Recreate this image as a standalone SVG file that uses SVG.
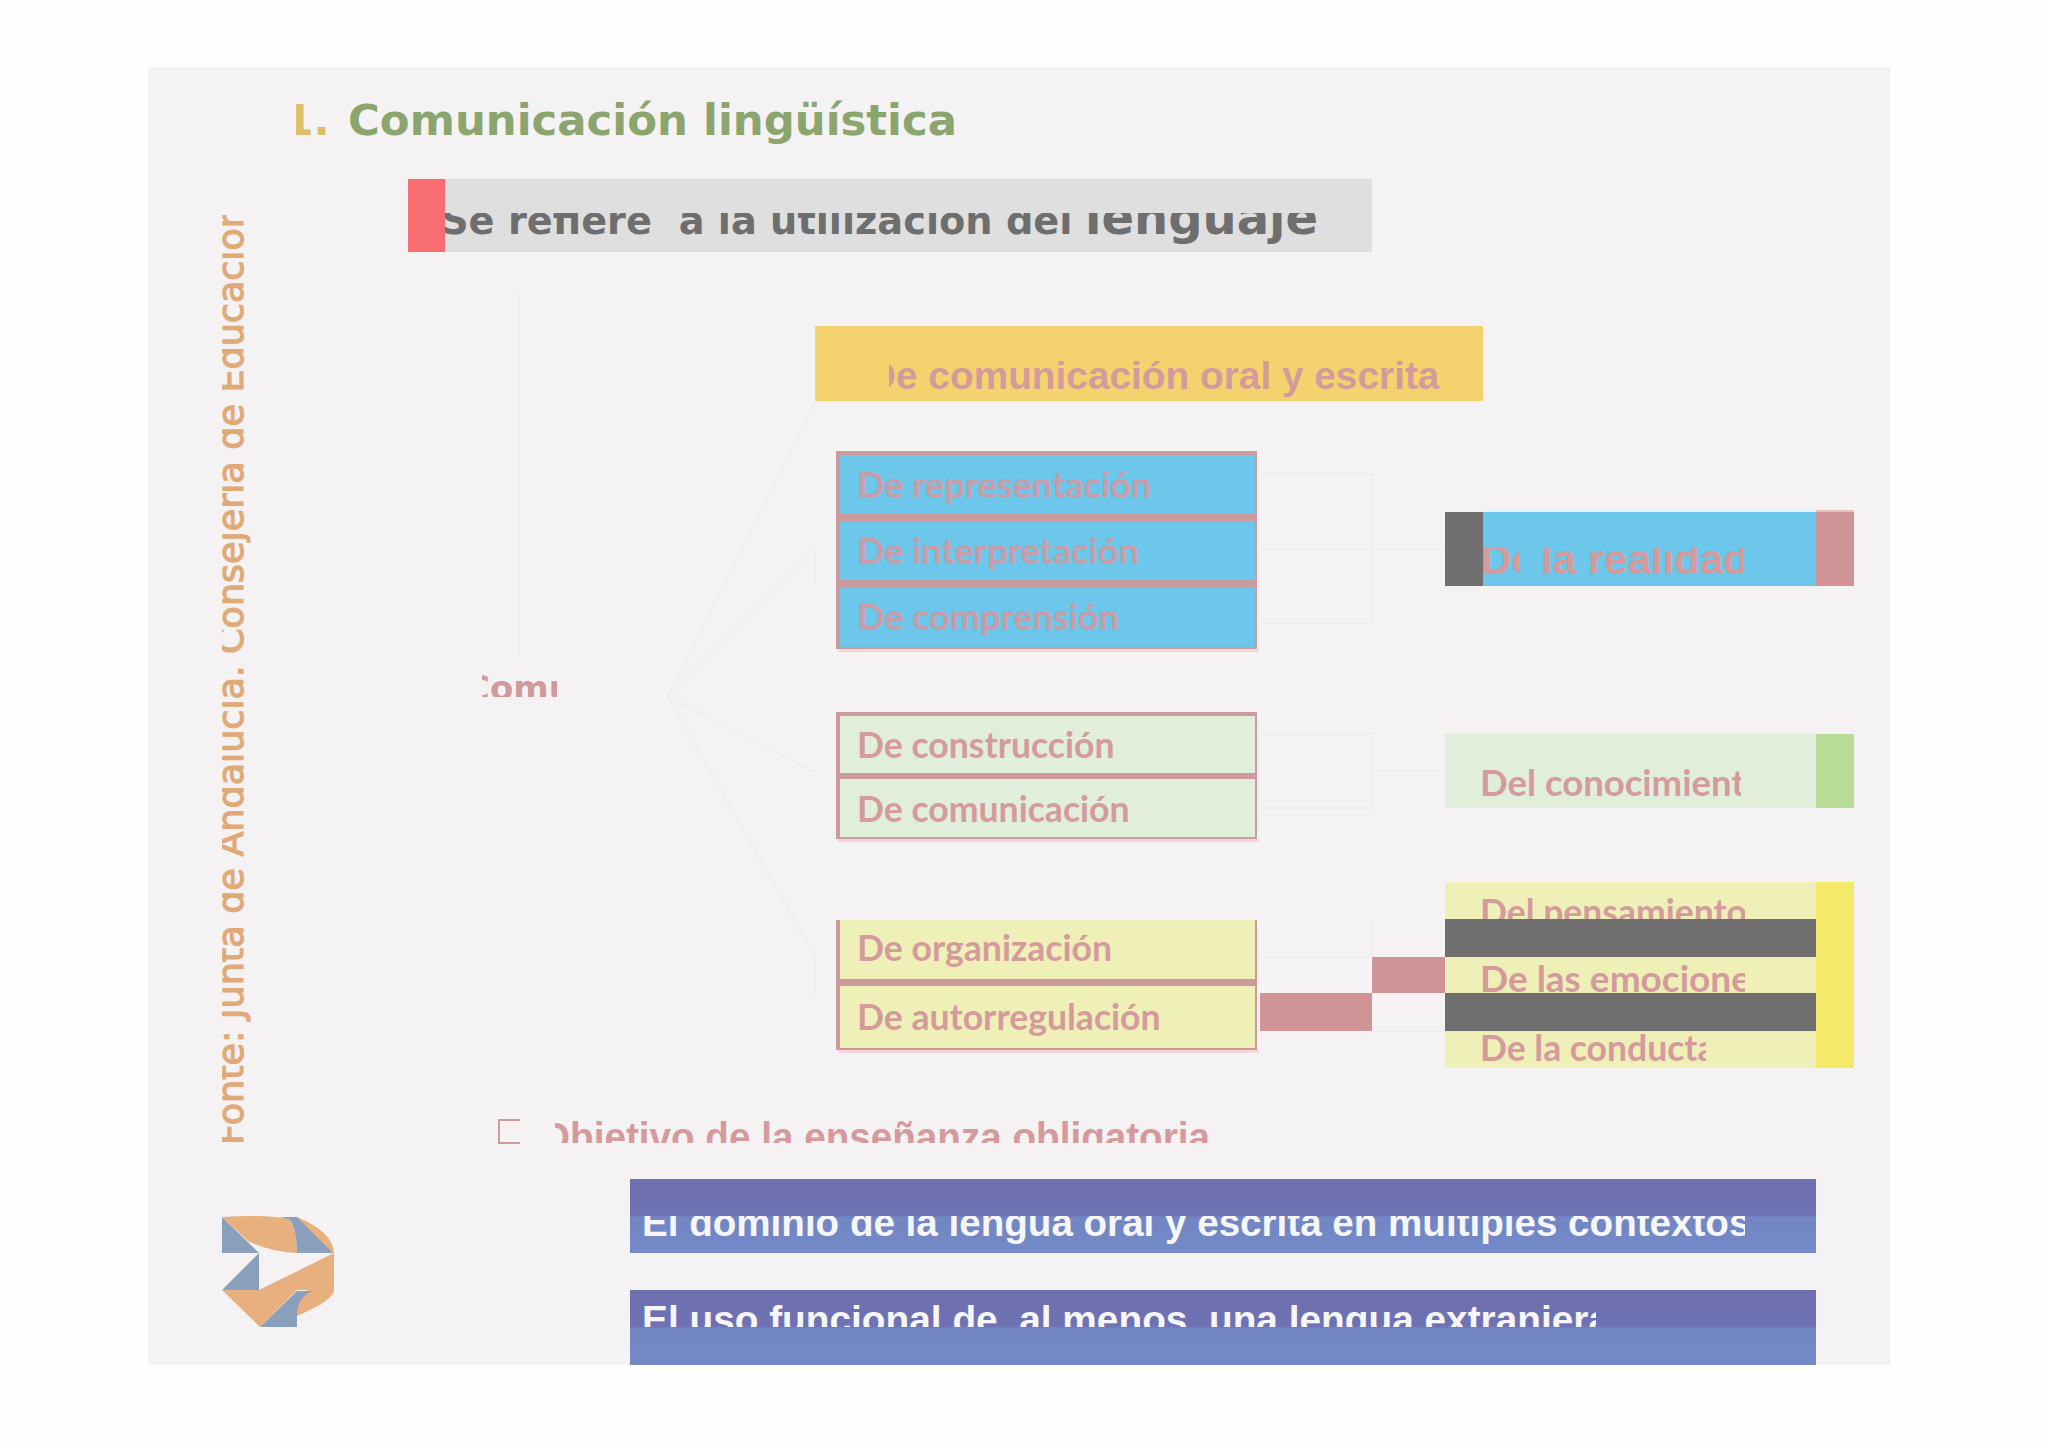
<svg xmlns="http://www.w3.org/2000/svg" width="2048" height="1448" viewBox="0 0 2048 1448">
<style>
.bd{fill:#cb9a9c}
.sh{fill:#f4d6d8}
.t{font-family:Lato,"Liberation Sans",sans-serif;font-weight:700;font-size:35.6px;fill:#d49a9c}
.bt{fill:#c99ca8;font-size:36px}
.d{font-family:"DejaVu Sans",sans-serif;font-weight:700}
.l{font-family:"Liberation Sans",sans-serif;font-weight:700}
.c{fill:none;stroke:#eeecec;stroke-width:1.5}
.lb{fill:#8a9fbb}.lo{fill:#e8b07e}
.blue{fill:#6cc7ea}.green{fill:#e0eedb}.yel{fill:#eff0b8}.dark{fill:#6f6f6f}.pk{fill:#d09496}
</style>
<defs>
<clipPath id="cSe"><rect x="445" y="213" width="875" height="31"/></clipPath>
<clipPath id="cTi"><rect x="296" y="90" width="60" height="60"/></clipPath>
<clipPath id="cYe"><rect x="889" y="340" width="560" height="60"/></clipPath>
<clipPath id="cRe"><rect x="1483" y="548" width="37" height="36"/><rect x="1541" y="548" width="202" height="36"/></clipPath>
<clipPath id="cCo"><rect x="1480" y="750" width="261" height="55"/></clipPath>
<clipPath id="cPe"><rect x="1480" y="890" width="265" height="29"/></clipPath>
<clipPath id="cEm"><rect x="1480" y="960" width="265" height="33"/></clipPath>
<clipPath id="cCd"><rect x="1480" y="1031" width="226" height="37"/></clipPath>
<clipPath id="cCm"><rect x="482" y="675" width="75" height="22"/></clipPath>
<clipPath id="cOb"><rect x="555" y="1110" width="670" height="33"/></clipPath>
<clipPath id="cEl"><rect x="640" y="1216" width="1105" height="30"/></clipPath>
<clipPath id="cUs"><rect x="640" y="1295" width="956" height="32"/></clipPath>
<clipPath id="cFo"><rect x="222" y="215" width="30" height="932"/></clipPath>
<linearGradient id="gb" x1="0" y1="0" x2="0" y2="1"><stop offset="0" stop-color="#6e70b0"/><stop offset=".48" stop-color="#6e72b2"/><stop offset=".52" stop-color="#7286c4"/><stop offset="1" stop-color="#7489c7"/></linearGradient>
</defs>
<rect width="2048" height="1448" fill="#fefefe"/>
<rect x="148" y="67" width="1742" height="1298" fill="#f4f2f2"/>

<g id="connectors">
<path class="c" d="M519 292V657M668 697L815 403M668 697L815 550V585M668 697L815 772M668 697L815 956V995"/>
<path class="c" d="M1260 474H1372V623H1260M1260 549H1445"/>
<path class="c" d="M1260 734H1372V808H1260M1372 771H1445"/>
<path class="c" d="M1260 957H1372M1372 920V957M1372 1031H1445"/>
</g>

<g id="logo">
<path class="lo" d="M222 1217Q270 1214 290 1220Q296 1226 297 1253Q270 1252 248 1241Z"/>
<path class="lo" d="M297 1217Q333 1232 334 1253H320Z"/>
<path class="lo" d="M334 1253V1290H297L260 1327L222 1290H259Z"/>
<path class="lo" d="M334 1290H308Q297 1296 297 1316Q334 1300 334 1290Z"/>
<path class="lb" d="M222 1217V1253H259Z"/>
<path class="lb" d="M280 1217H297L333 1253H297Q296 1226 290 1220Z"/>
<path class="lb" d="M259 1253V1290H222Z"/>
<path class="lb" d="M297 1291H313Q297 1296 297 1316V1327H260Z"/>
</g>

<g id="sidebar" clip-path="url(#cFo)">
<text transform="translate(243,1145) rotate(-90)" font-family="'DejaVu Sans',sans-serif" font-size="35" fill="#e0aa78" stroke="#e0aa78" stroke-width="1.2" textLength="940" lengthAdjust="spacingAndGlyphs">Fonte: Junta de Andalucía. Consejería de Educación</text>
</g>

<g id="title">
<text class="d" x="284" y="135" font-size="42.5" fill="#dcc068" clip-path="url(#cTi)">1.</text>
<text class="d" x="348" y="135" font-size="42.5" fill="#8aa56e" textLength="609" lengthAdjust="spacingAndGlyphs">Comunicación lingüística</text>
</g>

<g id="definition">
<rect x="445" y="179" width="927" height="73" fill="#e0dfdf"/>
<rect x="408" y="179" width="37" height="73" fill="#f76d70"/>
<text class="d" x="441" y="234" font-size="38.3" fill="#6e6e6e" clip-path="url(#cSe)" xml:space="preserve">Se refiere  a la utilización del <tspan x="1085" font-size="48">lenguaje</tspan></text>
</g>

<g id="root"><text class="d" x="465" y="700" font-size="34" fill="#d09a9c" clip-path="url(#cCm)">Comu</text></g>

<g id="oral">
<rect x="815" y="326" width="668" height="75" fill="#f4d36e"/>
<text class="l" x="868" y="389" font-size="38.8" fill="#d49a9c" clip-path="url(#cYe)">De comunicación oral y escrita</text>
</g>

<g id="group-blue">
<rect class="sh" x="838" y="649" width="421" height="3"/>
<rect class="bd" x="836" y="451" width="421" height="198"/>
<g id="n-representacion"><rect class="blue" x="840" y="455" width="415" height="59"/><text class="t bt" x="857" y="498">De representación</text></g>
<g id="n-interpretacion"><rect class="blue" x="840" y="521" width="415" height="59"/><text class="t bt" x="857" y="564">De interpretación</text></g>
<g id="n-comprension"><rect class="blue" x="840" y="587" width="415" height="60"/><text class="t bt" x="857" y="630">De comprensión</text></g>
</g>
<g id="group-green">
<rect class="sh" x="838" y="839" width="421" height="3"/>
<rect class="bd" x="836" y="712" width="421" height="127"/>
<g id="n-construccion"><rect class="green" x="840" y="716" width="415" height="57"/><text class="t" x="857" y="758">De construcción</text></g>
<g id="n-comunicacion"><rect class="green" x="840" y="779" width="415" height="58"/><text class="t" x="857" y="822">De comunicación</text></g>
</g>
<g id="group-yellow">
<rect class="sh" x="838" y="1050" width="421" height="3"/>
<rect class="bd" x="836" y="920" width="421" height="130"/>
<g id="n-organizacion"><rect class="yel" x="840" y="920" width="415" height="59"/><text class="t" x="857" y="961">De organización</text></g>
<g id="n-autorregulacion"><rect class="yel" x="840" y="986" width="415" height="62"/><text class="t" x="857" y="1030">De autorregulación</text></g>
</g>

<g id="n-realidad">
<rect x="1483" y="509" width="333" height="3" fill="#e6f5fc"/>
<rect class="blue" x="1483" y="512" width="333" height="74"/>
<rect class="dark" x="1445" y="512" width="38" height="74"/>
<rect class="pk" x="1816" y="512" width="38" height="74"/>
<rect x="1816" y="510" width="38" height="2" fill="#e6bfc0"/>
<text class="l" x="1481" y="574" font-size="42" fill="#d49a9c" clip-path="url(#cRe)">De <tspan x="1541">la realidad</tspan></text>
</g>
<g id="n-conocimiento">
<rect class="green" x="1445" y="734" width="371" height="74"/>
<rect x="1816" y="734" width="38" height="74" fill="#b9dc96"/>
<text class="t" x="1480" y="796" style="font-size:36.5px" clip-path="url(#cCo)">Del conocimiento</text>
</g>
<g id="n-mente">
<rect class="yel" x="1445" y="882" width="371" height="186"/>
<rect x="1816" y="882" width="38" height="186" fill="#f5e96a"/>
<text class="t" x="1480" y="925" style="font-size:35.5px" clip-path="url(#cPe)">Del pensamiento</text>
<text class="t" x="1480" y="992" style="font-size:37px" clip-path="url(#cEm)">De las emociones</text>
<text class="t" x="1480" y="1061" style="font-size:35.5px" clip-path="url(#cCd)">De la conducta</text>
<rect class="dark" x="1445" y="919" width="371" height="38"/>
<rect class="dark" x="1445" y="993" width="371" height="38"/>
<rect class="pk" x="1372" y="957" width="73" height="36"/>
<rect class="pk" x="1260" y="993" width="112" height="38"/>
</g>

<g id="objetivo">
<path d="M520 1120H499V1143H520" fill="none" stroke="#d09a9c" stroke-width="2"/>
<text class="l" x="540" y="1151" font-size="40" fill="#d49a9c" clip-path="url(#cOb)" textLength="670" lengthAdjust="spacingAndGlyphs">Objetivo de la enseñanza obligatoria</text>
</g>

<g id="dominio">
<rect x="630" y="1179" width="1186" height="74" fill="url(#gb)"/>
<text class="l" x="642" y="1236" font-size="38.6" fill="#f6f6f8" clip-path="url(#cEl)">El dominio de la lengua oral y escrita en múltiples contextos</text>
</g>
<g id="extranjera">
<rect x="630" y="1290" width="1186" height="75" fill="url(#gb)"/>
<text class="l" x="642" y="1333" font-size="38.8" fill="#f6f6f8" clip-path="url(#cUs)">El uso funcional de, al menos, una lengua extranjera</text>
</g>
</svg>
